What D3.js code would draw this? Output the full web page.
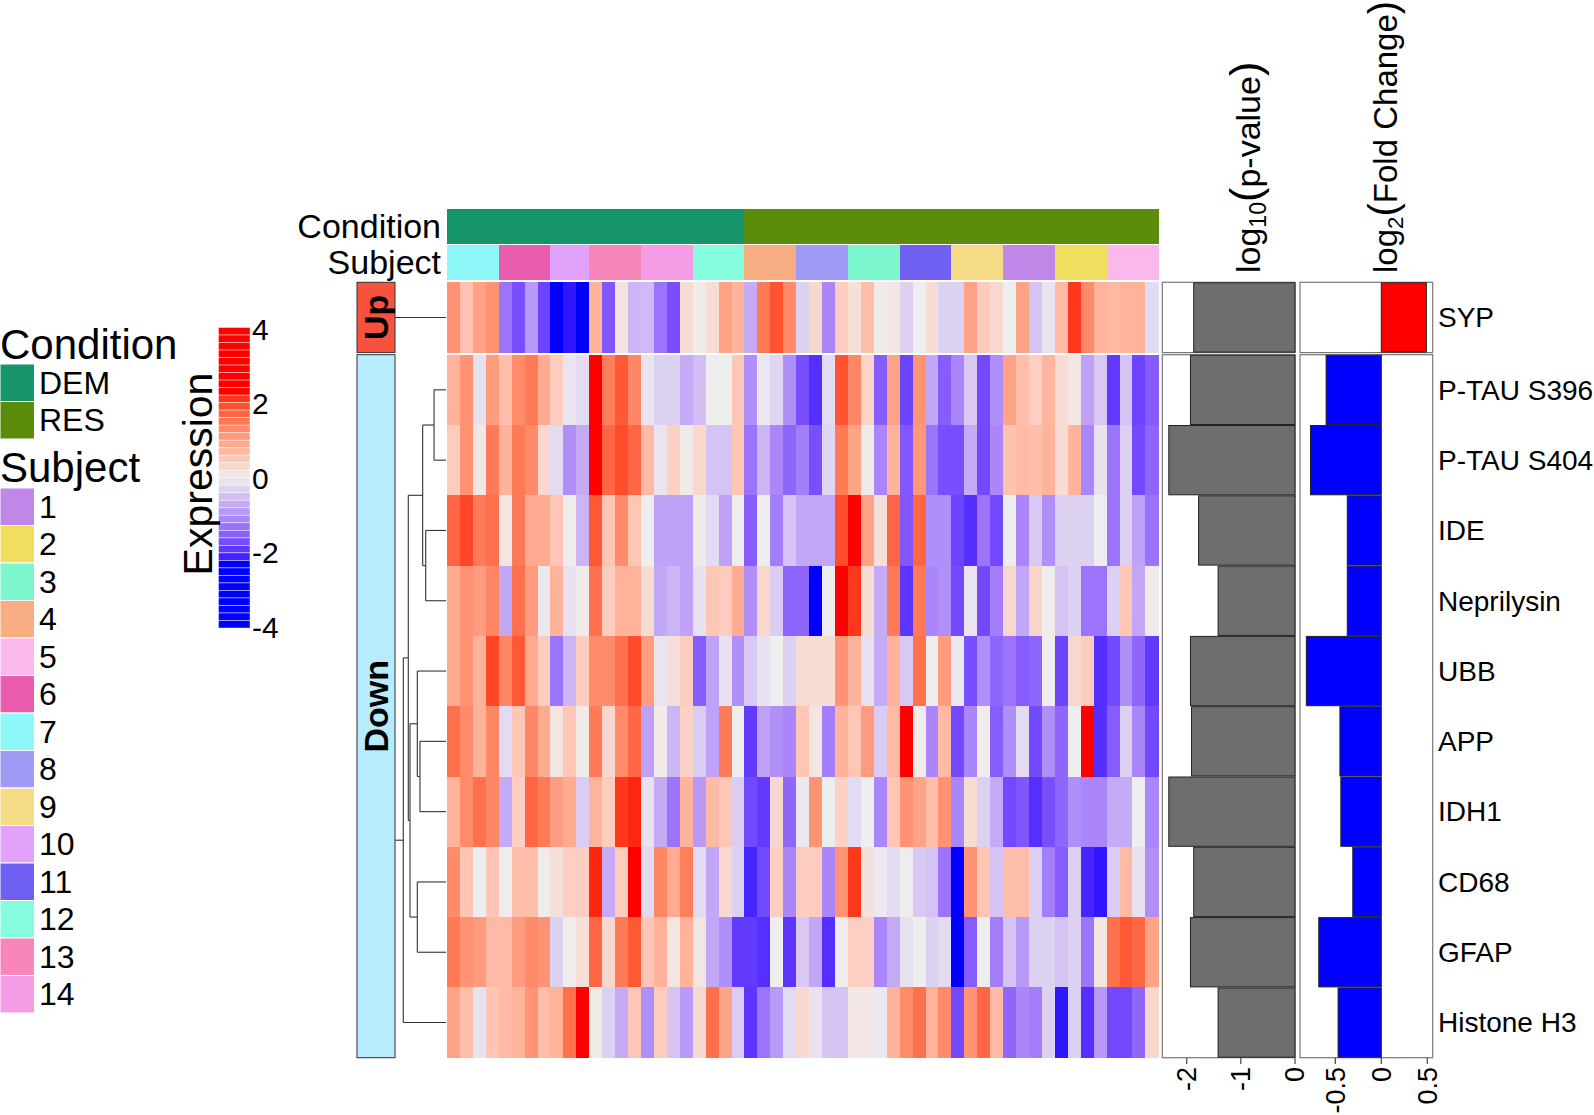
<!DOCTYPE html>
<html><head><meta charset="utf-8">
<script src="https://cdn.jsdelivr.net/npm/d3@7/dist/d3.min.js"></script>
<style>
body{margin:0;background:#fff;}
svg{display:block;font-family:"Liberation Sans",Arial,Helvetica,sans-serif;}
</style>
</head><body>
<svg id="chart" width="1594" height="1115"></svg>
<script>
// ---------------- DATA ----------------
const upGenes = ["SYP"];
const downGenes = ["P-TAU S396","P-TAU S404","IDE","Neprilysin","UBB","APP","IDH1","CD68","GFAP","Histone H3"];
const sliceLabels = ["Up","Down"];

const conditionLevels = ["DEM","RES"];
const conditionColors = ["#16946C","#5B8C0B"];
const subjectLevels = ["1","2","3","4","5","6","7","8","9","10","11","12","13","14"];
const subjectColors = ["#C086E8","#F0DE5E","#7CF6CC","#F8AC82","#FAB8EC","#EA5CAE","#8EF8F8","#9E9AF6","#F6DC86","#E0A2FA","#7060F2","#86FCDE","#F886B8","#F59CE6"];

const colSubject = ["7","7","7","7","6","6","6","6","10","10","10","13","13","13","13","14","14","14","14","12","12","12","12",
  "4","4","4","4","8","8","8","8","3","3","3","3","11","11","11","11","9","9","9","9","1","1","1","1","2","2","2","2","5","5","5","5"];
const colCondition = ["DEM","DEM","DEM","DEM","DEM","DEM","DEM","DEM","DEM","DEM","DEM","DEM","DEM","DEM","DEM","DEM","DEM","DEM","DEM","DEM","DEM","DEM","DEM",
  "RES","RES","RES","RES","RES","RES","RES","RES","RES","RES","RES","RES","RES","RES","RES","RES","RES","RES","RES","RES","RES","RES","RES","RES","RES","RES","RES","RES","RES","RES","RES","RES"];

const exprSYP = [1.2,0.6,1.0,1.2,-1.3,-1.7,-0.9,-1.8,-2.5,-2.2,-2.5,0.8,-1.6,0.15,-0.6,-0.55,-1.3,-1.7,
  0.25,0.05,0.25,1.0,0.8,-0.7,1.5,1.9,1.3,-0.3,0.3,-1.1,0.45,0.2,0.65,0.05,0.12,-0.3,-0.02,
  0.25,-0.3,-0.3,1.0,0.45,0.3,0,1.0,-0.45,-0.1,0.7,2.1,1.3,0.8,0.7,0.8,0.8,-0.2];
const exprPTAU396 = [0.8,1.2,-0.15,1.1,0.65,1.3,1.5,0.9,0.45,-0.1,-0.2,2.6,1.45,1.85,1.35,-0.1,-0.3,-0.3,
  -0.7,-0.5,0,0,0.55,-1.0,-0.05,-0.25,-1.0,-1.7,-2.0,-0.2,1.9,1.35,0.35,-1.55,1.0,-1.8,1.2,
  -0.75,-1.55,-1.1,-0.4,-1.75,-1.0,1.0,0.65,0.42,0.75,0.25,0.1,-0.8,-0.4,-1.9,-0.45,-1.8,-1.55];
const exprPTAU404 = [0.45,1.2,0.08,1.5,0.8,1.5,1.3,0.3,-0.2,-1.0,-0.7,2.6,1.7,1.95,1.7,0.7,-0.1,0.4,
  0.05,0.32,-0.45,-0.45,0.55,-1.3,-0.6,-1.1,-1.45,-1.2,-1.7,-0.25,1.5,1.0,0.05,-1.1,0.8,-1.6,1.15,
  -1.3,-1.7,-1.7,-0.7,-1.75,-1.1,0.6,0.7,0.65,0.8,0.25,0.8,-1.1,-0.12,-1.3,-0.3,-1.75,-1.45];
const exprIDE = [1.7,2.0,1.5,1.6,0.12,1.5,0.9,0.9,0.55,0.03,-0.6,1.85,0.55,1.3,0.55,0,-0.8,-0.8,
  -0.8,0.05,-0.2,-0.8,0,-1.55,0,-1.2,-0.45,-0.75,-0.75,-0.75,1.95,2.3,1.0,0.2,1.7,-1.6,1.7,
  -1.0,-1.0,-1.8,-2.0,-1.3,-1.75,0,-1.1,-0.4,-1.0,-0.3,-0.3,-0.3,-0.02,-1.3,-0.3,-0.8,-1.3];
const exprNeprilysin = [0.9,1.2,1.1,1.35,-0.75,1.6,1.1,-0.05,0.8,-0.12,0.05,1.6,0.45,0.8,0.8,0.25,-0.75,-0.6,
  -0.8,-0.12,0.55,0.45,0.9,-1.0,0.3,-0.35,-1.45,-1.45,-2.5,0,2.6,2.1,0.25,-0.7,1.5,-1.95,1.5,
  -1.1,-1.0,-1.75,-0.1,-1.75,-1.2,0.3,-0.75,0.35,0.02,-0.45,-0.3,-1.3,-1.3,-0.3,0.55,-0.75,0.05];
const exprUBB = [0.9,1.2,0.8,2.0,1.35,1.85,0.9,0.45,-1.3,-0.6,0.45,1.3,1.3,1.6,1.95,1.1,-0.1,0.2,
  0.45,-1.55,-0.8,-0.12,-1.0,-0.4,-0.12,0,-0.3,0.25,0.25,0.25,1.2,0.8,-0.12,-0.7,0.8,-0.4,1.6,
  0,1.1,-0.05,-1.7,-1.0,-1.45,-1.3,-1.55,-1.45,0,-1.8,0.3,0.45,-2.0,-1.75,-1.0,-1.45,-1.9];
const exprAPP = [1.6,1.3,0.8,1.35,-0.2,0.55,1.35,0.9,0.12,0.55,0.05,1.5,0.3,1.3,1.7,-0.8,0.05,-0.6,
  0.38,-0.35,-0.8,1.5,0,-1.9,-0.8,-1.0,-1.1,0.55,0.12,-1.2,0.8,0.55,1.1,-0.35,0.7,2.3,0.03,
  -1.1,0.7,-1.75,-1.1,0.03,-1.55,-1.0,-0.2,-1.75,-1.0,-1.45,0,2.6,-2.0,-1.55,-0.3,-1.1,-1.75];
const exprIDH1 = [0.8,1.3,1.6,1.35,-0.7,0.42,1.7,1.5,1.1,0.9,-0.35,0.8,0.45,2.1,2.2,-0.12,-0.7,-1.3,
  0.8,-0.9,0.7,0.55,-0.35,-1.75,-1.9,0.3,-1.45,-0.05,1.2,0,0.38,-0.2,0,-1.1,0.55,1.2,1.0,
  0.65,1.2,-1.1,0.25,-0.3,-0.7,-1.75,-1.6,-2.0,-1.7,-1.45,-1.0,-1.1,-1.1,-0.7,-0.7,0,-1.1];
const exprCD68 = [1.3,0.55,0,0.55,0.03,0.65,0.65,0.03,0.2,0.42,0.42,2.2,-0.7,0.45,2.6,-0.2,1.35,0.9,
  1.45,-0.2,-0.75,0.3,-0.3,-2.1,-1.75,0.42,-1.1,0.45,0.45,-1.1,1.2,2.1,0.18,-0.05,-0.2,-0.02,-0.4,
  -0.45,-1.3,-2.3,1.2,0.55,-0.45,0.65,0.65,-0.3,-1.2,-1.55,-0.3,-2.1,-2.2,-0.35,0.7,-0.12,-1.0];
const exprGFAP = [1.5,1.2,1.1,0.7,0.7,1.1,1.3,1.2,-0.3,0.03,0.2,1.7,0.3,1.5,1.85,0.55,0.8,0.12,
  0.8,0.12,-0.75,-1.0,-1.9,-1.9,-2.0,0,-1.95,-0.4,-0.75,-2.0,0.03,0.42,0.42,-1.1,-0.7,-0.12,0,
  -0.3,-0.2,-2.3,-1.55,0,-1.2,-0.45,-0.9,-0.3,-0.3,-0.45,-0.3,-1.3,0.12,1.6,1.85,1.7,1.0];
const exprHistoneH3 = [1.0,0.65,-0.12,0.55,0.7,0.8,1.2,0.65,0.8,1.6,2.6,0.06,-0.3,-0.7,0.55,-1.0,0.45,-0.45,
  -0.9,0.28,1.6,1.0,-0.35,-1.95,-1.3,-0.9,-0.2,0.28,-0.12,-0.45,-0.45,0.1,0.1,-0.05,0.8,1.3,1.6,
  0.8,1.3,-1.75,1.2,1.7,0.7,-1.45,-1.1,-1.2,-0.3,-2.2,-0.3,-2.0,-0.9,-1.75,-1.75,-1.45,0.32];

const log10p = [-1.87,-1.93,-2.33,-1.78,-1.42,-1.93,-1.91,-2.33,-1.87,-1.93,-1.42];
const log2fc = [0.49,-0.60,-0.77,-0.37,-0.37,-0.815,-0.45,-0.44,-0.31,-0.68,-0.47];

const legendTicks = [4,2,0,-2,-4];
const pTicks = [-2,-1,0];
const fcTicks = [-0.5,0,0.5];

// row dendrogram of the "Down" slice (heights relative to root, leaves = index in downGenes)
const dendro = {h:1.0, children:[
  {h:0.883, children:[
    {h:0.546, children:[{h:0.28, children:[{leaf:0},{leaf:1}]},{h:0.475, children:[{leaf:2},{leaf:3}]}]},
    {h:0.843, children:[
      {h:0.672, children:[{leaf:4},{h:0.61, children:[{leaf:5},{leaf:6}]}]},
      {h:0.672, children:[{leaf:7},{leaf:8}]}
    ]}
  ]},
  {leaf:9}
]};

// ---------------- DRAW ----------------
const genes = upGenes.concat(downGenes);
const exprRows = [exprSYP,exprPTAU396,exprPTAU404,exprIDE,exprNeprilysin,exprUBB,exprAPP,exprIDH1,exprCD68,exprGFAP,exprHistoneH3];

const svg = d3.select("#chart");

const color = d3.scaleLinear().domain([-2.3,0,2.3]).range(["#0000FF","#EEEEEE","#FF0000"])
  .interpolate(d3.interpolateLab).clamp(true);
const condColor = d3.scaleOrdinal().domain(conditionLevels).range(conditionColors);
const subjColor = d3.scaleOrdinal().domain(subjectLevels).range(subjectColors);

const nCol = colSubject.length;
const x = d3.scaleBand().domain(d3.range(nCol)).range([447, 1158.3]);
const yUp = d3.scaleBand().domain(upGenes).range([282.3, 352.6]);
const yDown = d3.scaleBand().domain(downGenes).range([354.7, 1057.7]);
const yRow = g => upGenes.includes(g) ? yUp(g) : yDown(g);

// heatmap cells
const hm = svg.append("g").attr("shape-rendering","crispEdges");
genes.forEach((g, r) => {
  hm.selectAll(null).data(exprRows[r]).enter().append("rect")
    .attr("x", (d,i) => x(i)).attr("width", x.bandwidth()+0.4)
    .attr("y", yRow(g)).attr("height", g==="SYP" ? yUp.bandwidth() : yDown.bandwidth()+0.3)
    .attr("fill", d => color(d));
});

// top annotations
const ann = svg.append("g").attr("shape-rendering","crispEdges");
ann.selectAll(null).data(colCondition).enter().append("rect")
  .attr("x",(d,i)=>x(i)).attr("width",x.bandwidth()+0.4).attr("y",209).attr("height",34.5)
  .attr("fill",d=>condColor(d));
ann.selectAll(null).data(colSubject).enter().append("rect")
  .attr("x",(d,i)=>x(i)).attr("width",x.bandwidth()+0.4).attr("y",244.5).attr("height",35)
  .attr("fill",d=>subjColor(d));
svg.append("text").attr("x",441).attr("y",226.5).attr("dy","0.35em").attr("text-anchor","end")
  .attr("font-size",34).text("Condition");
svg.append("text").attr("x",441).attr("y",262).attr("dy","0.35em").attr("text-anchor","end")
  .attr("font-size",34).text("Subject");

// slice boxes (Up / Down)
const slices = [
  {label:sliceLabels[0], y0:yUp.range()[0], y1:yUp.range()[1], fill:"#F8523E"},
  {label:sliceLabels[1], y0:yDown.range()[0], y1:yDown.range()[1], fill:"#B6ECFC"}
];
slices.forEach(s => {
  svg.append("rect").attr("x",357).attr("width",38).attr("y",s.y0).attr("height",s.y1-s.y0)
    .attr("fill",s.fill).attr("stroke","#333").attr("stroke-width",1);
  svg.append("text").attr("transform",`translate(376,${(s.y0+s.y1)/2}) rotate(-90)`)
    .attr("text-anchor","middle").attr("dy","0.35em").attr("font-weight","bold")
    .attr("font-size",34).text(s.label);
});

// dendrograms
const dx = d3.scaleLinear().domain([0,1]).range([446,403.3]);
const dg = svg.append("g").attr("stroke","#333").attr("stroke-width",1.1).attr("fill","none");
const upC = yUp("SYP") + yUp.bandwidth()/2;
dg.append("line").attr("x1",395).attr("x2",446).attr("y1",upC).attr("y2",upC);
function layoutNode(n){
  if (n.leaf !== undefined){ n.y = yDown(downGenes[n.leaf]) + yDown.bandwidth()/2; n.hh = 0; return; }
  n.children.forEach(layoutNode);
  n.y = d3.mean(n.children, c => c.y); n.hh = n.h;
}
layoutNode(dendro);
const rootNode = d3.hierarchy(dendro);
rootNode.each(node => {
  const n = node.data;
  if (!n.children) return;
  const ys = n.children.map(c=>c.y);
  dg.append("line").attr("x1",dx(n.hh)).attr("x2",dx(n.hh)).attr("y1",d3.min(ys)).attr("y2",d3.max(ys));
  n.children.forEach(c => {
    dg.append("line").attr("x1",dx(n.hh)).attr("x2",dx(c.hh)).attr("y1",c.y).attr("y2",c.y);
  });
});
dg.append("line").attr("x1",395).attr("x2",dx(dendro.h)).attr("y1",dendro.y).attr("y2",dendro.y);

// right bar annotations
const xP = d3.scaleLinear().domain([-2.45,0]).range([1162.3,1295]);
const xFC = d3.scaleLinear().domain([-0.884,0.559]).range([1300,1432.7]);
const panels = [{sc:xP, vals:log10p, fill:()=>"#6E6E6E", ticks:pTicks},
                {sc:xFC, vals:log2fc, fill:v=> v>0 ? "#FF0000" : "#0000FF", ticks:fcTicks}];
panels.forEach(p => {
  const [a,b] = p.sc.range();
  slices.forEach(s => {
    svg.append("rect").attr("x",a).attr("y",s.y0).attr("width",b-a).attr("height",s.y1-s.y0)
      .attr("fill","#fff").attr("stroke","#777").attr("stroke-width",1.2);
  });
  genes.forEach((g,i) => {
    const v = p.vals[i];
    const yy = yRow(g), hh = upGenes.includes(g) ? yUp.bandwidth() : yDown.bandwidth();
    svg.append("rect").attr("x", p.sc(Math.min(0,v))).attr("width", Math.abs(p.sc(v)-p.sc(0)))
      .attr("y", yy+0.5).attr("height", hh-1).attr("fill", p.fill(v)).attr("stroke","#222").attr("stroke-width",1);
  });
  const ax = svg.append("g");
  p.ticks.forEach(t => {
    ax.append("line").attr("x1",p.sc(t)).attr("x2",p.sc(t)).attr("y1",1058).attr("y2",1064)
      .attr("stroke","#444").attr("stroke-width",1.2);
    ax.append("text").attr("transform",`translate(${p.sc(t)},1067) rotate(-90)`)
      .attr("text-anchor","end").attr("dy","0.35em").attr("font-size",27).text(t);
  });
});

// bar titles
function mathTitle(xb, base, sub, inner, fs, pfs){
  const t = svg.append("text").attr("transform",`translate(${xb},273) rotate(-90)`).attr("font-size",fs);
  t.append("tspan").text(base);
  t.append("tspan").attr("font-size",fs*0.68).attr("dy",6).text(sub);
  t.append("tspan").attr("font-size",pfs).attr("dy",-6).text("(");
  t.append("tspan").text(inner);
  t.append("tspan").attr("font-size",pfs).text(")");
}
mathTitle(1260, "log", "10", "p-value", 34, 43);
mathTitle(1397, "log", "2", "Fold Change", 33, 40);

// row labels
genes.forEach(g => {
  const hh = upGenes.includes(g) ? yUp.bandwidth() : yDown.bandwidth();
  svg.append("text").attr("x",1438).attr("y",yRow(g)+hh/2).attr("dy","0.35em")
    .attr("font-size",28).text(g);
});

// ---------------- LEGENDS ----------------
const sw = 37.5;
svg.append("text").attr("x",0).attr("y",359).attr("font-size",42).text("Condition");
conditionLevels.forEach((c,i) => {
  svg.append("rect").attr("x",0).attr("y",364+i*sw).attr("width",34.5).attr("height",sw)
    .attr("fill",condColor(c)).attr("stroke","#fff").attr("stroke-width",1);
  svg.append("text").attr("x",39).attr("y",364+i*sw+sw/2).attr("dy","0.35em").attr("font-size",32).text(c);
});
svg.append("text").attr("x",0).attr("y",482).attr("font-size",42).text("Subject");
subjectLevels.forEach((c,i) => {
  svg.append("rect").attr("x",0).attr("y",488+i*sw).attr("width",34.5).attr("height",sw)
    .attr("fill",subjColor(c)).attr("stroke","#fff").attr("stroke-width",1);
  svg.append("text").attr("x",39).attr("y",488+i*sw+sw/2).attr("dy","0.35em").attr("font-size",32).text(c);
});

// expression colour bar
const yLeg = d3.scaleLinear().domain([-4,4]).range([627,329]);
const nb = 40, legTop = 327.5, legBot = 628, step = (legBot-legTop)/nb;
const bands = d3.range(nb).map(i => yLeg.invert(legTop + (i+0.5)*step));
svg.append("g").selectAll("rect").data(bands).enter().append("rect")
  .attr("x",218.5).attr("width",31.5).attr("y",(d,i)=>legTop+i*step).attr("height",step)
  .attr("fill",d=>color(d)).attr("stroke","rgba(255,255,255,0.6)").attr("stroke-width",0.7);
legendTicks.forEach(t => {
  svg.append("text").attr("x",252).attr("y",yLeg(t)).attr("dy","0.35em").attr("font-size",30).text(t);
});
svg.append("text").attr("transform","translate(212,474) rotate(-90)").attr("text-anchor","middle")
  .attr("font-size",41).text("Expression");
</script>
</body></html>
